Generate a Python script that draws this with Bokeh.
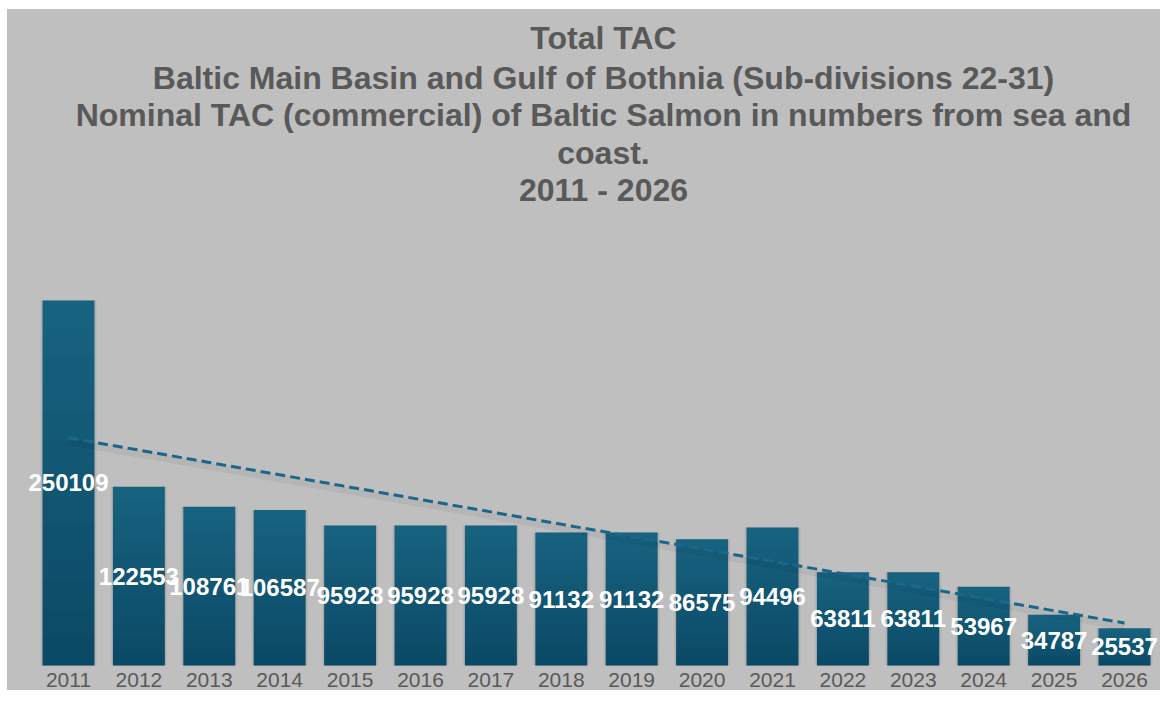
import numpy as np
from bokeh.plotting import figure
from bokeh.models import Range1d, FixedTicker, Label, ColumnDataSource, LabelSet
from bokeh.embed import file_html
from bokeh.resources import INLINE
from bokeh.core.properties import value

years = [2011, 2012, 2013, 2014, 2015, 2016, 2017, 2018,
         2019, 2020, 2021, 2022, 2023, 2024, 2025, 2026]
tac = [250109, 122553, 108761, 106587, 95928, 95928, 95928, 91132,
       91132, 86575, 94496, 63811, 63811, 53967, 34787, 25537]
title_lines = [
    "Total TAC",
    "Baltic Main Basin and Gulf of Bothnia (Sub-divisions 22-31)",
    "Nominal TAC (commercial) of Baltic Salmon in numbers from sea and",
    "coast.",
    "2011 - 2026",
]

BG = "#bfbfbf"
TXT = "#595959"
BAR_TOP = "#17627f"
FONT = "Liberation Sans"
W, H = 1160, 690

idx = np.arange(len(years))
coef = np.polyfit(idx, tac, 1)
trend = np.polyval(coef, idx)

src = ColumnDataSource(dict(
    year=years,
    tac=tac,
    mid=[v / 2 for v in tac],
    label=[str(v) for v in tac],
))

p = figure(width=W, height=H, output_backend="svg", toolbar_location=None,
           x_range=Range1d(2010.0341, 2026.5114),
           y_range=Range1d(-17130, 455667),
           y_axis_location=None, min_border=0,
           background_fill_color=None, border_fill_color=None,
           outline_line_color=None,
           styles={"background-color": "white",
                   "background-image": "linear-gradient(#bfbfbf, #bfbfbf)",
                   "background-position": "7px 9px",
                   "background-repeat": "no-repeat"})

# title lines (baselines measured from the top of the chart)
baselines = [37, 77, 114, 152, 189]
for line, b in zip(title_lines, baselines):
    p.add_layout(Label(x=603, y=H - b, x_units="screen", y_units="screen",
                       text=line, text_align="center",
                       text_baseline="alphabetic",
                       text_font_size="32px", text_font_style="bold",
                       text_color=TXT, text_font=FONT))

# soft shadow behind bars
p.vbar(x="year", top="tac", width=0.80, bottom=0, source=src,
       fill_color="black", fill_alpha=0.05, line_color=None)
p.vbar(x="year", top="tac", width=0.765, bottom=0, source=src,
       fill_color="black", fill_alpha=0.05, line_color=None)
p.vbar(x="year", top="tac", width=0.737, bottom=0, source=src,
       fill_color=BAR_TOP, line_color=None)
# vertical shading: darker toward the bottom of each bar
n_layers = 12
for k in range(1, n_layers + 1):
    frac = 1 - k / (n_layers + 1)
    p.vbar(x=years, top=[v * frac for v in tac], width=0.737, bottom=0,
           fill_color="black", fill_alpha=0.016, line_color=None)

# trend line with faint shadow
p.line(years, [t - 2700 for t in trend], line_width=7, color="black", alpha=0.05)
p.line(years, trend, line_width=3, color="#1a678b", line_dash="10 5")

labels = LabelSet(x="year", y="mid", text="label", source=src,
                  text_align="center", text_baseline="middle",
                  text_color="white", text_font_size="24px",
                  text_font_style="bold", text_font=value(FONT))
p.add_layout(labels)

p.xaxis.fixed_location = 0
p.xaxis.ticker = FixedTicker(ticks=years)
p.xaxis.major_label_text_font_size = "21px"
p.xaxis.major_label_text_color = TXT
p.xaxis.major_label_text_font = FONT
p.xaxis.axis_line_color = None
p.xaxis.major_tick_line_color = None
p.xaxis.minor_tick_line_color = None
p.xaxis.major_label_standoff = 1
p.xgrid.grid_line_color = None
p.ygrid.grid_line_color = None

open("out.html", "w").write(file_html(p, INLINE))
